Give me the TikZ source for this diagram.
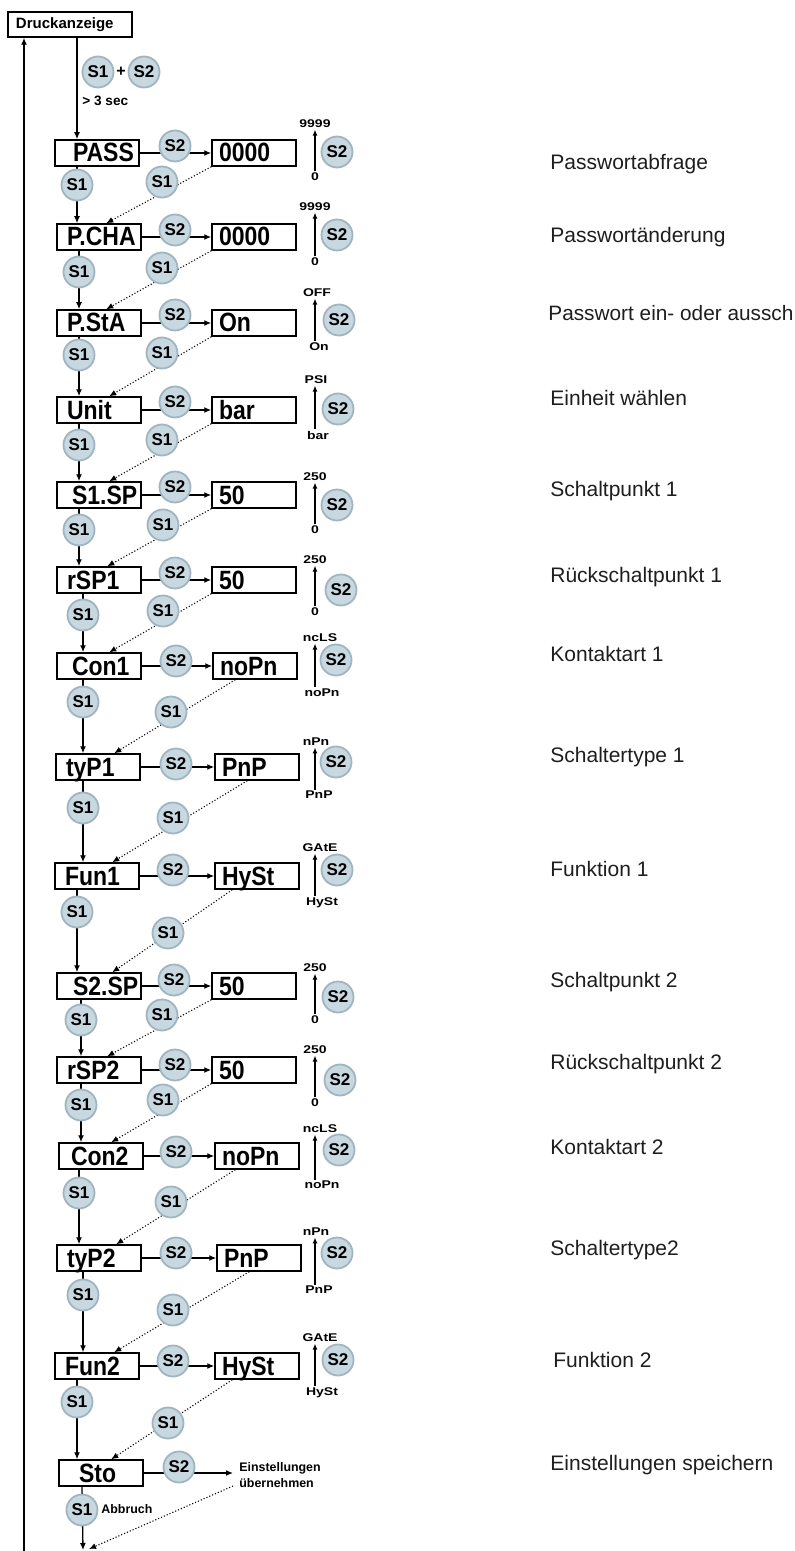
\documentclass[tikz,border=0pt]{standalone}
\usepackage{fontspec}
\setmainfont{Liberation Sans}
\usepackage{graphicx}
\usetikzlibrary{arrows.meta,calc}
\pgfdeclarelayer{lines}
\pgfsetlayers{lines,main}
\definecolor{btnfill}{RGB}{200,216,224}
\definecolor{btndraw}{RGB}{160,181,192}
\definecolor{desccol}{RGB}{30,30,30}
\newcommand\boxtxt[1]{\scalebox{1}[1.15]{#1}}
\newcommand\rngtxt[1]{\scalebox{1}[0.8]{#1}}
\begin{document}
\begin{tikzpicture}[x=0.5pt,y=-0.5pt,
  box/.style={draw, line width=0.75pt, minimum height=13pt, text width=32pt, inner xsep=5pt, inner ysep=1.5pt, text height=9.5pt, text depth=0.5pt, align=left, font=\fontsize{11.5}{11.5}\selectfont\bfseries},
  valbox/.style={box, text width=35pt, inner xsep=3.5pt},
  btn/.style={circle, fill=btnfill, draw=btndraw, line width=0.9pt, minimum size=15.5pt, inner sep=0pt, font=\fontsize{8.5}{8.5}\selectfont\bfseries},
  rng/.style={inner sep=0.6pt, font=\fontsize{7}{7}\selectfont\bfseries},
  desc/.style={anchor=west, inner sep=0pt, text=desccol, font=\fontsize{10.5}{12}\selectfont},
  small/.style={inner sep=0pt, font=\fontsize{6.2}{8}\selectfont\bfseries},
  flow/.style={line width=0.65pt, -{Latex[length=3.5pt,width=3pt]}},
  back/.style={line width=0.55pt, densely dotted, -{Latex[length=3.5pt,width=3pt]}},
  rline/.style={line width=0.65pt, -{Latex[length=3pt,width=2.5pt]}}
]
\begin{pgfonlayer}{lines}
\fill[white] (0,0) rectangle (794,1551);
\end{pgfonlayer}
\useasboundingbox (0,0) rectangle (794,1551);
\clip (0,0) rectangle (794,1551);

% top
\node[draw, line width=0.75pt, minimum width=62pt, minimum height=12.5pt, text width=54pt, inner xsep=4pt, inner ysep=0pt, align=left, font=\fontsize{7.5}{7.5}\selectfont\bfseries] (druck) at (70,24.5) {Druckanzeige};
\node[btn] (sa) at (98,72) {S1};
\node[font=\fontsize{8}{8}\selectfont\bfseries, inner sep=0pt] (plus) at (121,72) {+};
\node[btn] (sb) at (144,72) {S2};
\node[small, anchor=west, font=\fontsize{6.8}{8}\selectfont\bfseries] (sec) at (82,101) {> 3 sec};

% boxes
\node[box] (b1) at (97,153) {\hspace*{4pt}\boxtxt{PASS}};
\node[box] (b2) at (99,237) {\boxtxt{P.CHA}};
\node[box] (b3) at (99,323) {\boxtxt{P.StA}};
\node[box] (b4) at (99,410) {\boxtxt{Unit}};
\node[box] (b5) at (99,495) {\hspace*{2.5pt}\boxtxt{S1.SP}};
\node[box] (b6) at (99,580) {\boxtxt{rSP1}};
\node[box] (b7) at (99,666) {\hspace*{2.5pt}\boxtxt{Con1}};
\node[box] (b8) at (98,767) {\boxtxt{tyP1}};
\node[box] (b9) at (97,876) {\boxtxt{Fun1}};
\node[box] (b10) at (99,986) {\hspace*{3pt}\boxtxt{S2.SP}};
\node[box] (b11) at (99,1070) {\boxtxt{rSP2}};
\node[box] (b12) at (101,1156) {\hspace*{1pt}\boxtxt{Con2}};
\node[box] (b13) at (99,1258) {\boxtxt{tyP2}};
\node[box] (b14) at (97,1366) {\boxtxt{Fun2}};
\node[box] (b15) at (101,1473) {\hspace*{5pt}\boxtxt{Sto}};

% value boxes
\node[valbox] (v1) at (254,153) {\boxtxt{0000}};
\node[valbox] (v2) at (254,237) {\boxtxt{0000}};
\node[valbox] (v3) at (254,323) {\boxtxt{On}};
\node[valbox] (v4) at (254,410) {\boxtxt{bar}};
\node[valbox] (v5) at (254,495) {\boxtxt{50}};
\node[valbox] (v6) at (254,580) {\boxtxt{50}};
\node[valbox] (v7) at (255,666) {\boxtxt{noPn}};
\node[valbox] (v8) at (257,767) {\boxtxt{PnP}};
\node[valbox] (v9) at (257,876) {\boxtxt{HySt}};
\node[valbox] (v10) at (254,986) {\boxtxt{50}};
\node[valbox] (v11) at (254,1070) {\boxtxt{50}};
\node[valbox] (v12) at (257,1156) {\boxtxt{noPn}};
\node[valbox] (v13) at (259,1258) {\boxtxt{PnP}};
\node[valbox] (v14) at (257,1366) {\boxtxt{HySt}};

% range labels
\node[rng] (t1) at (315,124) {\rngtxt{9999}};  \node[rng] (u1) at (315,177) {\rngtxt{0}};
\node[rng] (t2) at (315,207) {\rngtxt{9999}};  \node[rng] (u2) at (315,262) {\rngtxt{0}};
\node[rng] (t3) at (317,293) {\rngtxt{OFF}};   \node[rng] (u3) at (319,347) {\rngtxt{On}};
\node[rng] (t4) at (316,380) {\rngtxt{PSI}};   \node[rng] (u4) at (318,435) {\rngtxt{bar}};
\node[rng] (t5) at (315,477) {\rngtxt{250}};   \node[rng] (u5) at (315,530) {\rngtxt{0}};
\node[rng] (t6) at (315,560) {\rngtxt{250}};   \node[rng] (u6) at (315,612) {\rngtxt{0}};
\node[rng] (t7) at (320,638) {\rngtxt{ncLS}};  \node[rng] (u7) at (322,693) {\rngtxt{noPn}};
\node[rng] (t8) at (316,742) {\rngtxt{nPn}};   \node[rng] (u8) at (319,795) {\rngtxt{PnP}};
\node[rng] (t9) at (320,848) {\rngtxt{GAtE}};  \node[rng] (u9) at (322,903) {\rngtxt{HySt}};
\node[rng] (t10) at (315,968) {\rngtxt{250}};  \node[rng] (u10) at (315,1020) {\rngtxt{0}};
\node[rng] (t11) at (315,1050) {\rngtxt{250}}; \node[rng] (u11) at (315,1103) {\rngtxt{0}};
\node[rng] (t12) at (320,1129) {\rngtxt{ncLS}};\node[rng] (u12) at (322,1185) {\rngtxt{noPn}};
\node[rng] (t13) at (316,1232) {\rngtxt{nPn}}; \node[rng] (u13) at (319,1290) {\rngtxt{PnP}};
\node[rng] (t14) at (320,1338) {\rngtxt{GAtE}};\node[rng] (u14) at (322,1393) {\rngtxt{HySt}};

% S2 buttons on horizontal arrows
\node[btn] (h1) at (175,146) {S2};
\node[btn] (h2) at (175,230) {S2};
\node[btn] (h3) at (175,315) {S2};
\node[btn] (h4) at (175,402) {S2};
\node[btn] (h5) at (175,487) {S2};
\node[btn] (h6) at (175,573) {S2};
\node[btn] (h7) at (176,661) {S2};
\node[btn] (h8) at (176,764) {S2};
\node[btn] (h9) at (173,870) {S2};
\node[btn] (h10) at (174,980) {S2};
\node[btn] (h11) at (175,1065) {S2};
\node[btn] (h12) at (176,1152) {S2};
\node[btn] (h13) at (176,1253) {S2};
\node[btn] (h14) at (173,1361) {S2};
\node[btn] (h15) at (179,1467) {S2};

% S2 buttons beside ranges
\node[btn] (k1) at (337,152) {S2};
\node[btn] (k2) at (337,235) {S2};
\node[btn] (k3) at (339,320) {S2};
\node[btn] (k4) at (338,409) {S2};
\node[btn] (k5) at (337,505) {S2};
\node[btn] (k6) at (341,590) {S2};
\node[btn] (k7) at (336,660) {S2};
\node[btn] (k8) at (336,762) {S2};
\node[btn] (k9) at (337,870) {S2};
\node[btn] (k10) at (338,997) {S2};
\node[btn] (k11) at (340,1080) {S2};
\node[btn] (k12) at (339,1150) {S2};
\node[btn] (k13) at (337,1253) {S2};
\node[btn] (k14) at (338,1360) {S2};

% S1 buttons on main column
\node[btn] (s1) at (77,185) {S1};
\node[btn] (s2) at (79,272) {S1};
\node[btn] (s3) at (79,355) {S1};
\node[btn] (s4) at (79,445) {S1};
\node[btn] (s5) at (79,530) {S1};
\node[btn] (s6) at (83,615) {S1};
\node[btn] (s7) at (83,702) {S1};
\node[btn] (s8) at (83,808) {S1};
\node[btn] (s9) at (77,912) {S1};
\node[btn] (s10) at (81,1020) {S1};
\node[btn] (s11) at (81,1105) {S1};
\node[btn] (s12) at (79,1193) {S1};
\node[btn] (s13) at (83,1295) {S1};
\node[btn] (s14) at (77,1402) {S1};
\node[btn] (s15) at (82,1510) {S1};

% S1 buttons on return diagonals
\node[btn] (q1) at (162,182) {S1};
\node[btn] (q2) at (162,268) {S1};
\node[btn] (q3) at (162,353) {S1};
\node[btn] (q4) at (162,440) {S1};
\node[btn] (q5) at (163,525) {S1};
\node[btn] (q6) at (163,611) {S1};
\node[btn] (q7) at (171,712) {S1};
\node[btn] (q8) at (173,818) {S1};
\node[btn] (q9) at (168,933) {S1};
\node[btn] (q10) at (162,1015) {S1};
\node[btn] (q11) at (163,1100) {S1};
\node[btn] (q12) at (171,1202) {S1};
\node[btn] (q13) at (173,1310) {S1};
\node[btn] (q14) at (168,1423) {S1};

% Sto extras
\node[small, anchor=west, align=left, inner xsep=3pt] (ein) at (233,1475) {Einstellungen\\übernehmen};
\node[small, anchor=west] (abb) at (101,1509) {Abbruch};
\coordinate (ueb) at (233,1486);
\coordinate (bend) at (89,1549);
\coordinate (stoend) at (83,1550);
\coordinate (retb) at (24,1551);

% descriptions
\node[desc] (d1) at (550,164) {Passwortabfrage};
\node[desc] (d2) at (550,237) {Passwortänderung};
\node[desc, font=\fontsize{10.4}{12}\selectfont] (d3) at (548,313) {Passwort ein- oder aussch};
\node[desc] (d4) at (550,398) {Einheit wählen};
\node[desc] (d5) at (550,491) {Schaltpunkt 1};
\node[desc] (d6) at (550,577) {Rückschaltpunkt 1};
\node[desc] (d7) at (550,654) {Kontaktart 1};
\node[desc] (d8) at (550,757) {Schaltertype 1};
\node[desc] (d9) at (550,869) {Funktion 1};
\node[desc] (d10) at (550,982) {Schaltpunkt 2};
\node[desc] (d11) at (550,1064) {Rückschaltpunkt 2};
\node[desc] (d12) at (550,1147) {Kontaktart 2};
\node[desc] (d13) at (550,1250) {Schaltertype2};
\node[desc] (d14) at (553,1360) {Funktion 2};
\node[desc] (d15) at (550,1465) {Einstellungen speichern};

\begin{pgfonlayer}{lines}
% main column
\draw[flow] (druck.south -| s1) -- (b1.north -| s1);
\draw[flow] (b1.south -| s1) -- (b2.north -| s1);
\draw[flow] (b2.south -| s2) -- (b3.north -| s2);
\draw[flow] (b3.south -| s3) -- (b4.north -| s3);
\draw[flow] (b4.south -| s4) -- (b5.north -| s4);
\draw[flow] (b5.south -| s5) -- (b6.north -| s5);
\draw[flow] (b6.south -| s6) -- (b7.north -| s6);
\draw[flow] (b7.south -| s7) -- (b8.north -| s7);
\draw[flow] (b8.south -| s8) -- (b9.north -| s8);
\draw[flow] (b9.south -| s9) -- (b10.north -| s9);
\draw[flow] (b10.south -| s10) -- (b11.north -| s10);
\draw[flow] (b11.south -| s11) -- (b12.north -| s11);
\draw[flow] (b12.south -| s12) -- (b13.north -| s12);
\draw[flow] (b13.south -| s13) -- (b14.north -| s13);
\draw[flow] (b14.south -| s14) -- (b15.north -| s14);
\draw[flow] (b15.south -| s15) -- (stoend);
\draw[flow] (retb) -- (retb |- druck.south);
% horizontal S2 arrows
\draw[flow] (b1.east) -- (v1.west);
\draw[flow] (b2.east) -- (v2.west);
\draw[flow] (b3.east) -- (v3.west);
\draw[flow] (b4.east) -- (v4.west);
\draw[flow] (b5.east) -- (v5.west);
\draw[flow] (b6.east) -- (v6.west);
\draw[flow] (b7.east) -- (v7.west);
\draw[flow] (b8.east) -- (v8.west);
\draw[flow] (b9.east) -- (v9.west);
\draw[flow] (b10.east) -- (v10.west);
\draw[flow] (b11.east) -- (v11.west);
\draw[flow] (b12.east) -- (v12.west);
\draw[flow] (b13.east) -- (v13.west);
\draw[flow] (b14.east) -- (v14.west);
\draw[flow] (b15.east) -- (b15.east -| ein.west);
% return diagonals
\draw[back] (v1.south west) -- ($(b2.north west)+(50,0)$);
\draw[back] (v2.south west) -- ($(b3.north west)+(50,0)$);
\draw[back] (v3.south west) -- ($(b4.north west)+(53,0)$);
\draw[back] (v4.south west) -- ($(b5.north west)+(53,0)$);
\draw[back] (v5.south west) -- ($(b6.north west)+(51,0)$);
\draw[back] (v6.south west) -- ($(b7.north west)+(53,0)$);
\draw[back] ($(v7.south west)+(23,0)$) -- ($(b8.north west)+(59,0)$);
\draw[back] ($(v8.south west)+(33,0)$) -- ($(b9.north west)+(58,0)$);
\draw[back] ($(v9.south west)+(18,0)$) -- ($(b10.north west)+(56,0)$);
\draw[back] (v10.south west) -- ($(b11.north west)+(51,0)$);
\draw[back] (v11.south west) -- ($(b12.north west)+(53,0)$);
\draw[back] ($(v12.south west)+(21,0)$) -- ($(b13.north west)+(60,0)$);
\draw[back] ($(v13.south west)+(33,0)$) -- ($(b14.north west)+(60,0)$);
\draw[back] ($(v14.south west)+(18,0)$) -- ($(b15.north west)+(53,0)$);
\draw[back] (ueb) -- (bend);
% range arrows
\draw[rline] (u1.north -| t1) -- (t1.south);
\draw[rline] (u2.north -| t2) -- (t2.south);
\draw[rline] (u3.north -| t1) -- (t3.south -| t1);
\draw[rline] (u4.north -| t1) -- (t4.south -| t1);
\draw[rline] (u5.north -| t1) -- (t5.south -| t1);
\draw[rline] (u6.north -| t1) -- (t6.south -| t1);
\draw[rline] (u7.north -| t1) -- (t7.south -| t1);
\draw[rline] (u8.north -| t1) -- (t8.south -| t1);
\draw[rline] (u9.north -| t1) -- (t9.south -| t1);
\draw[rline] (u10.north -| t1) -- (t10.south -| t1);
\draw[rline] (u11.north -| t1) -- (t11.south -| t1);
\draw[rline] (u12.north -| t1) -- (t12.south -| t1);
\draw[rline] (u13.north -| t1) -- (t13.south -| t1);
\draw[rline] (u14.north -| t1) -- (t14.south -| t1);
\end{pgfonlayer}
\end{tikzpicture}
\end{document}
